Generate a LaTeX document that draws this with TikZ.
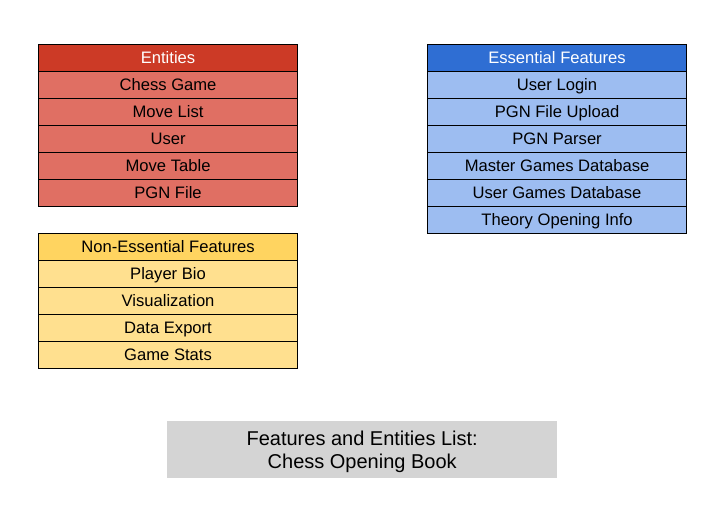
\documentclass[tikz,border=0pt]{standalone}
\usepackage{fontspec}
\setmainfont{Liberation Sans}
\definecolor{entHead}{HTML}{CC3A26}
\definecolor{entRow}{HTML}{E06F63}
\definecolor{essHead}{HTML}{2F6ED3}
\definecolor{essRow}{HTML}{9DBDF1}
\definecolor{nonHead}{HTML}{FFD460}
\definecolor{nonRow}{HTML}{FFE08F}
\definecolor{titleGray}{HTML}{D4D4D4}
\begin{document}
\begin{tikzpicture}[x=1pt,y=-1pt,
  cell/.style={draw=black,line width=1.1pt,minimum width=259pt,minimum height=27pt,
    inner sep=0pt,text height=14pt,text depth=2.5pt,anchor=north west,
    font=\fontsize{16.6}{19}\selectfont},
  headcell/.style={cell,text=white},
  titlebox/.style={fill=titleGray,minimum width=390pt,minimum height=57pt,inner sep=0pt,
    anchor=north west,align=center,font=\fontsize{20}{23.5}\selectfont}]
\useasboundingbox (0,0) rectangle (721,507);
% Entities
\node[headcell,fill=entHead] (ent0) at (38,44) {Entities};
\foreach \t [count=\i] in {Chess Game,Move List,User,Move Table,PGN File}
  \node[cell,fill=entRow] (ent\i) at (38,44+27*\i) {\t};
% Essential features
\node[headcell,fill=essHead] (ess0) at (427,44) {Essential Features};
\foreach \t [count=\i] in {User Login,PGN File Upload,PGN Parser,Master Games Database,User Games Database,Theory Opening Info}
  \node[cell,fill=essRow] (ess\i) at (427,44+27*\i) {\t};
% Non-essential features
\node[cell,fill=nonHead] (non0) at (38,233) {Non-Essential Features};
\foreach \t [count=\i] in {Player Bio,Visualization,Data Export,Game Stats}
  \node[cell,fill=nonRow] (non\i) at (38,233+27*\i) {\t};
% Title
\node[titlebox] (title) at (167,421) {\rule{0pt}{18.5pt}Features and Entities List:\\Chess Opening Book};
\end{tikzpicture}
\end{document}
